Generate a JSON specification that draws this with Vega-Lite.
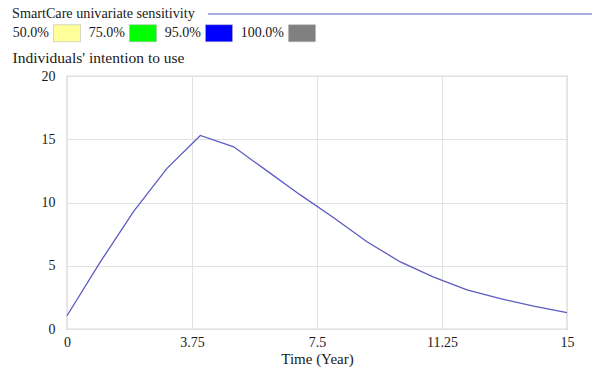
{
  "$schema": "https://vega.github.io/schema/vega-lite/v6.json",
  "width": 500,
  "height": 253,
  "autosize": {"type": "none"},
  "padding": {"left": 67, "top": 76, "right": 25, "bottom": 41},
  "background": "white",
  "config": {
    "font": "Liberation Serif",
    "view": {"stroke": "#b4b4b4", "strokeWidth": 1.2},
    "axis": {
      "labelFont": "Liberation Serif",
      "labelFontSize": 14,
      "labelColor": "#1a1a1a",
      "titleFont": "Liberation Serif",
      "titleFontSize": 15.5,
      "titleFontWeight": "normal",
      "titleColor": "#1a1a1a",
      "gridColor": "#e2e2e2",
      "gridWidth": 1,
      "domain": false,
      "ticks": false
    },
    "legend": {
      "labelFont": "Liberation Serif",
      "titleFont": "Liberation Serif",
      "labelColor": "#1a1a1a",
      "titleColor": "#1a1a1a"
    }
  },
  "layer": [
    {
      "data": {
        "values": [
          {"t": 0, "v": 1.05, "series": "SmartCare univariate sensitivity"},
          {"t": 1, "v": 5.3, "series": "SmartCare univariate sensitivity"},
          {"t": 2, "v": 9.3, "series": "SmartCare univariate sensitivity"},
          {"t": 3, "v": 12.7, "series": "SmartCare univariate sensitivity"},
          {"t": 4, "v": 15.3, "series": "SmartCare univariate sensitivity"},
          {"t": 5, "v": 14.4, "series": "SmartCare univariate sensitivity"},
          {"t": 6, "v": 12.5, "series": "SmartCare univariate sensitivity"},
          {"t": 7, "v": 10.6, "series": "SmartCare univariate sensitivity"},
          {"t": 8, "v": 8.8, "series": "SmartCare univariate sensitivity"},
          {"t": 9, "v": 6.9, "series": "SmartCare univariate sensitivity"},
          {"t": 10, "v": 5.3, "series": "SmartCare univariate sensitivity"},
          {"t": 11, "v": 4.1, "series": "SmartCare univariate sensitivity"},
          {"t": 12, "v": 3.1, "series": "SmartCare univariate sensitivity"},
          {"t": 13, "v": 2.4, "series": "SmartCare univariate sensitivity"},
          {"t": 14, "v": 1.8, "series": "SmartCare univariate sensitivity"},
          {"t": 15, "v": 1.3, "series": "SmartCare univariate sensitivity"}
        ]
      },
      "mark": {"type": "line", "strokeWidth": 1.3},
      "encoding": {
        "x": {
          "field": "t",
          "type": "quantitative",
          "scale": {"domain": [0, 15], "nice": false, "zero": false},
          "axis": {
            "values": [0, 3.75, 7.5, 11.25, 15],
            "labelExpr": "format(datum.value, '~g')",
            "title": "Time (Year)",
            "titleFontSize": 15,
            "titleBaseline": "middle",
            "titleY": 29,
            "labelPadding": 6,
            "labelFlush": false
          }
        },
        "y": {
          "field": "v",
          "type": "quantitative",
          "scale": {"domain": [0, 20], "nice": false},
          "axis": {
            "values": [0, 5, 10, 15, 20],
            "title": "Individuals' intention to use",
            "titleAngle": 0,
            "titleAlign": "left",
            "titleBaseline": "middle",
            "titleX": -55,
            "titleY": -19,
            "labelPadding": 12
          }
        },
        "stroke": {
          "field": "series",
          "type": "nominal",
          "scale": {"domain": ["SmartCare univariate sensitivity"], "range": ["#5b5bc2"]},
          "legend": {
            "orient": "none",
            "legendX": -55,
            "legendY": -68,
            "title": "SmartCare univariate sensitivity",
            "titleOrient": "left",
            "titleFontSize": 14.2,
            "titleFontWeight": "normal",
            "titleLimit": 400,
            "titlePadding": 12,
            "symbolType": "M-1,0H76",
            "symbolSize": 100,
            "symbolStrokeWidth": 1.2,
            "labelExpr": "''",
            "labelOffset": 0,
            "padding": 0
          }
        }
      }
    },
    {
      "data": {
        "values": [
          {"band": "50.0%"},
          {"band": "75.0%"},
          {"band": "95.0%"},
          {"band": "100.0%"}
        ]
      },
      "mark": {"type": "square", "opacity": 0, "size": 1},
      "encoding": {
        "fill": {
          "field": "band",
          "type": "nominal",
          "sort": null,
          "scale": {
            "domain": ["50.0%", "75.0%", "95.0%", "100.0%"],
            "range": ["#ffff99", "#00ff00", "#0000ff", "#808080"]
          },
          "legend": {
            "orient": "none",
            "legendX": -14,
            "legendY": -57,
            "title": null,
            "direction": "horizontal",
            "symbolType": "M-1,-0.63H1V0.63H-1Z",
            "symbolSize": 729,
            "symbolOpacity": 1,
            "symbolFillColor": null,
            "symbolStrokeColor": "#b0b0b0",
            "symbolStrokeWidth": 0.5,
            "labelAlign": "right",
            "labelOffset": -32,
            "labelFontSize": 14,
            "columnPadding": 6,
            "padding": 0
          }
        }
      }
    }
  ]
}
